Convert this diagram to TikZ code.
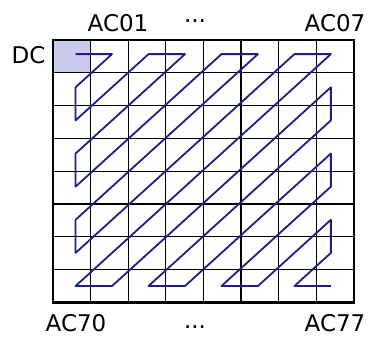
\documentclass[tikz,border=0pt]{standalone}
\usepackage{fontspec}
\setmainfont{DejaVu Sans}
\definecolor{scanblue}{RGB}{30,30,135}
\definecolor{dcshade}{RGB}{202,202,236}
\begin{document}
\begin{tikzpicture}[x=37.6pt,y=-32.8pt,
  lbl/.style={inner sep=0pt,font=\fontsize{23}{26}\selectfont}]
\useasboundingbox (-1.41,-1.22) rectangle (8.457,9.024);
\fill[dcshade] (0,0) rectangle (1,1);
\foreach \i in {1,...,7} {
  \draw[line width=1.3pt] (\i,0) -- (\i,8);
  \draw[line width=1.3pt] (0,\i) -- (8,\i);
}
\draw[line width=2.2pt] (0,0) rectangle (8,8);

\begin{scope}[shift={(0.6,0.43)},xscale=0.97,yscale=1.01]
\draw[scanblue,line width=1.8pt,line join=round]
  (0,0) -- (1,0) -- (0,1) -- (0,2) -- (2,0) -- (3,0) -- (0,3) -- (0,4)
  -- (4,0) -- (5,0) -- (0,5) -- (0,6) -- (6,0) -- (7,0) -- (0,7) -- (1,7)
  -- (7,1) -- (7,2) -- (2,7) -- (3,7) -- (7,3) -- (7,4) -- (4,7) -- (5,7)
  -- (7,5) -- (7,6) -- (6,7) -- (7,7);
\end{scope}

\node[lbl] (dc) at (-0.652,0.473) {DC};
\node[lbl] (ac01) at (1.729,-0.503) {AC01};
\node[lbl] (topdots) at (3.777,-0.579) {...};
\node[lbl] (ac07) at (7.5,-0.503) {AC07};
\node[lbl] (ac70) at (0.612,8.63) {AC70};
\node[lbl] (botdots) at (3.777,8.76) {...};
\node[lbl] (ac77) at (7.5,8.63) {AC77};
\end{tikzpicture}
\end{document}
